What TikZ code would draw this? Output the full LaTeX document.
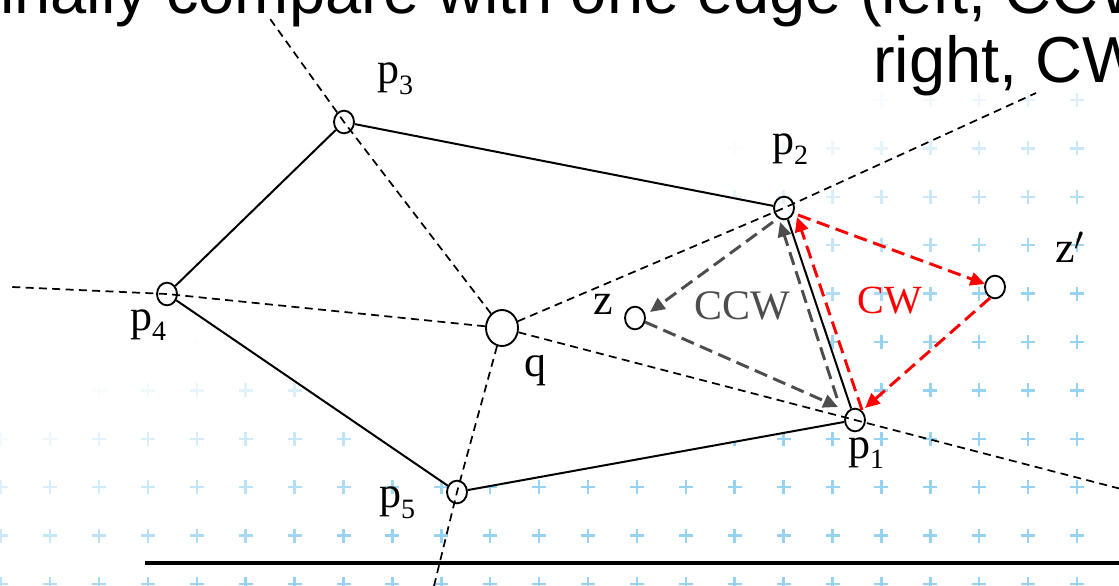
\documentclass[tikz,border=0pt]{standalone}
\usepackage{fontspec}
\setmainfont{Liberation Serif}
\newfontfamily\arialf{Liberation Sans}
\usetikzlibrary{shapes.geometric,arrows.meta,calc}
\definecolor{plusblue}{RGB}{150,210,242}
\definecolor{ccwgray}{RGB}{77,77,77}
\definecolor{cwred}{RGB}{255,0,0}
\newcommand{\plab}[1]{p\raisebox{-8pt}{\fontsize{21}{21}\selectfont #1}}
\begin{document}
\begin{tikzpicture}[x=0.75pt,y=-0.75pt,
  vtx/.style={ellipse,draw,line width=1.4pt,minimum width=15pt,minimum height=17pt,inner sep=0pt},
  qvtx/.style={ellipse,draw,fill=white,line width=1.4pt,minimum width=24pt,minimum height=27pt,inner sep=0pt},
  guide/.style={draw,line width=1.3pt,dash pattern=on 6pt off 4pt},
  edge/.style={draw,line width=1.5pt},
  ccwarrow/.style={draw=ccwgray,line width=2.2pt,dash pattern=on 10pt off 5pt,-{Triangle[length=11pt,width=10pt]}},
  cwarrow/.style={draw=cwred,line width=2.2pt,dash pattern=on 10pt off 5pt,-{Triangle[length=11pt,width=10pt]}},
  lab/.style={inner sep=0pt,font=\fontsize{33}{33}\selectfont},
  plus/.style={draw=plusblue,line width=1.9pt},
  title/.style={inner sep=0pt,anchor=base west,font=\arialf\fontsize{48.75}{58}\selectfont}
]
\fill[white] (0,0) rectangle (1119,585);
\useasboundingbox (0,0) rectangle (1119,585);
\clip (0,0) rectangle (1119,585);
% background pluses
\foreach \i in {0,...,22}{
  \foreach \j in {0,...,10}{
    \pgfmathsetmacro\px{1077-48.9*\i}
    \pgfmathsetmacro\py{100+48.4*\j}
    \pgfmathsetmacro\op{max(0,min(1,(\py+0.37*\px-410)/260))}
    \draw[plus,opacity=\op] (\px-7,\py) -- (\px+7,\py) (\px,\py-7) -- (\px,\py+7);
  }
}
% centres
\coordinate (c1) at (855,420);
\coordinate (c2) at (784,208);
\coordinate (c3) at (344,122);
\coordinate (c4) at (167,294);
\coordinate (c5) at (457,492);
\fill[white] (c1) -- (c2) -- (c3) -- (c4) -- (c5) -- cycle;
% vertices
\node[vtx] (p1) at (c1) {};
\node[vtx] (p2) at (c2) {};
\node[vtx] (p3) at (c3) {};
\node[vtx] (p4) at (c4) {};
\node[vtx] (p5) at (c5) {};
\node[qvtx] (q) at (502,328) {};
\node[vtx] (z) at (635,318) {};
\node[vtx] (zp) at (995,287) {};
% guide line ends
\coordinate (e1) at (1125,490);
\coordinate (e2) at (1036,93);
\coordinate (e3) at (268,16);
\coordinate (e4) at (12,287);
\coordinate (e5) at (433,590);
\draw[guide] (q) -- (p1.center) -- (e1);
\draw[guide] (q) -- (p2.center) -- (e2);
\draw[guide] (q) -- (p3.center) -- (e3);
\draw[guide] (q) -- (p4.center) -- (e4);
\draw[guide] (q) -- (p5.center) -- (e5);
% polygon
\draw[edge] (p1) -- (p2);
\draw[edge] (p2) -- (p3);
\draw[edge] (p3) -- (p4);
\draw[edge] (p4) -- (p5);
\draw[edge] (p5) -- (p1);
% CCW arrows
\draw[ccwarrow] ([shift={(-11,14)}]p2.center) -- ([shift={(15,-6)}]z.center);
\draw[ccwarrow] ([shift={(10,4)}]z.center) -- ([shift={(-17,-13)}]p1.center);
\draw[ccwarrow] ([shift={(-18,-22)}]p1.center) -- ([shift={(-4,14)}]p2.center);
% CW arrows
\draw[cwarrow] ([shift={(7,-10)}]p1.center) -- ([shift={(13,9)}]p2.center);
\draw[cwarrow] ([shift={(14,7)}]p2.center) -- ([shift={(-10,-3)}]zp.center);
\draw[cwarrow] ([shift={(-5,11)}]zp.center) -- ([shift={(10,-12)}]p1.center);
% labels
\node[lab] (l1) at (866,453) {\plab{1}};
\node[lab] (l2) at (790,149) {\plab{2}};
\node[lab] (l3) at (395,79) {\plab{3}};
\node[lab] (l4) at (148,325) {\plab{4}};
\node[lab] (l5) at (397,503) {\plab{5}};
\node[lab] (lq) at (535,371) {q};
\node[lab] (lz) at (603,304) {z};
\node[lab] (lzp) at (1070,247) {z$'$};
\node[inner sep=0pt,text=ccwgray,font=\fontsize{31.5}{31.5}\selectfont] (tccw) at (742,306) {CCW};
\node[inner sep=0pt,text=cwred,font=\fontsize{30}{30}\selectfont] (tcw) at (890,301) {CW};
% title
\node[title] (t1) at (0,14) {inally compare with one edge (left, CCW};
\node[title] (t2) at (873,83) {right, CW};
% bottom bar
\coordinate (b1) at (145,563);
\coordinate (b2) at (1125,563);
\draw[line width=2.6pt] (b1) -- (b2);
\end{tikzpicture}
\end{document}
